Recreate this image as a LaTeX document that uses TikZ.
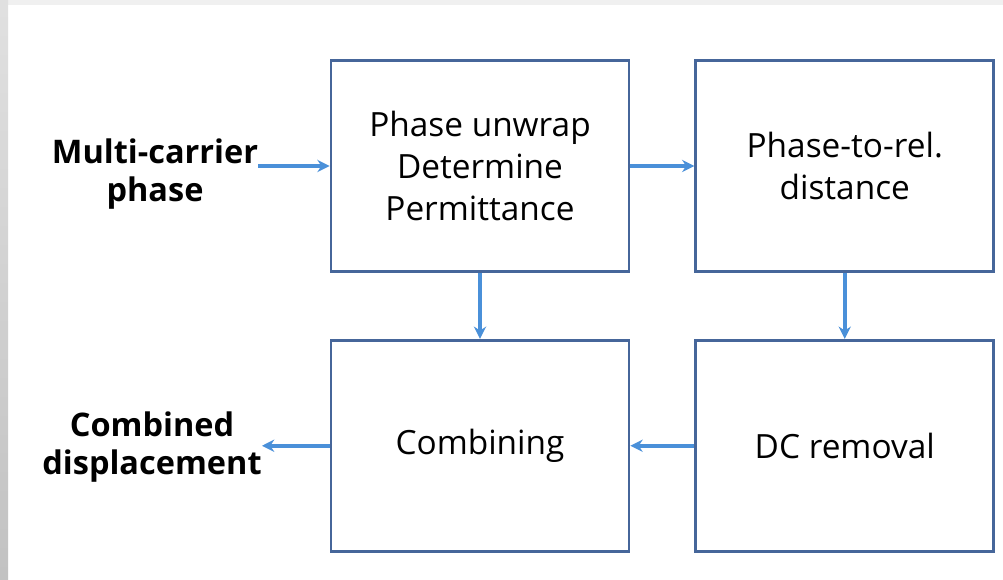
\documentclass[tikz,border=0pt]{standalone}
\usepackage{fontspec}
\setmainfont{Open Sans}
\usetikzlibrary{
    arrows.meta,
    positioning
}
\definecolor{boxline}{HTML}{46669A}
\definecolor{flowblue}{HTML}{4A90D9}

\begin{document}
\begin{tikzpicture}[
    x=0.02cm, y=-0.02cm,
    blocknode/.style = {rectangle, draw=boxline, line width=1.6pt, fill=white,
                        minimum width=5.96cm, minimum height=4.22cm,
                        align=center, font=\fontsize{19}{24}\selectfont},
    ionode/.style    = {inner sep=0pt, align=center,
                        font=\fontsize{18.5}{22}\selectfont\bfseries},
    flow/.style      = {-{Stealth[length=7pt,width=7pt]}, draw=flowblue,
                        line width=2pt},
]
    %Frame
    \useasboundingbox (0,0) rectangle (1003,580);
    \fill[white] (0,0) rectangle (1003,580);
    \fill[black!6] (0,0) rectangle (1003,5);
    \shade[top color=black!12, bottom color=black!24] (0,0) rectangle (8,580);

    %Nodes
    \node[blocknode]  (unwrap)                              at (480,166) {Phase unwrap\\Determine\\Permittance};
    \node[blocknode]  (reldist)  [right=1.28cm of unwrap]   {Phase-to-rel.\\distance};
    \node[blocknode]  (combine)  [below=1.32cm of unwrap]   {Combining};
    \node[blocknode]  (dcremove) [right=1.28cm of combine]  {DC removal};
    \node[ionode]     (inphase)                             at (155,174) {Multi-carrier\\phase};
    \node[ionode]     (outdisp)                             at (152,447) {Combined\\displacement};

    %Lines
    \draw[flow] (inphase.east |- unwrap.west) -- (unwrap.west);
    \draw[flow] (unwrap.east) -- (reldist.west);
    \draw[flow] (unwrap.south) -- (combine.north);
    \draw[flow] (reldist.south) -- (dcremove.north);
    \draw[flow] (dcremove.west) -- (combine.east);
    \draw[flow] (combine.west) -- (outdisp.east |- combine.west);
\end{tikzpicture}
\end{document}
